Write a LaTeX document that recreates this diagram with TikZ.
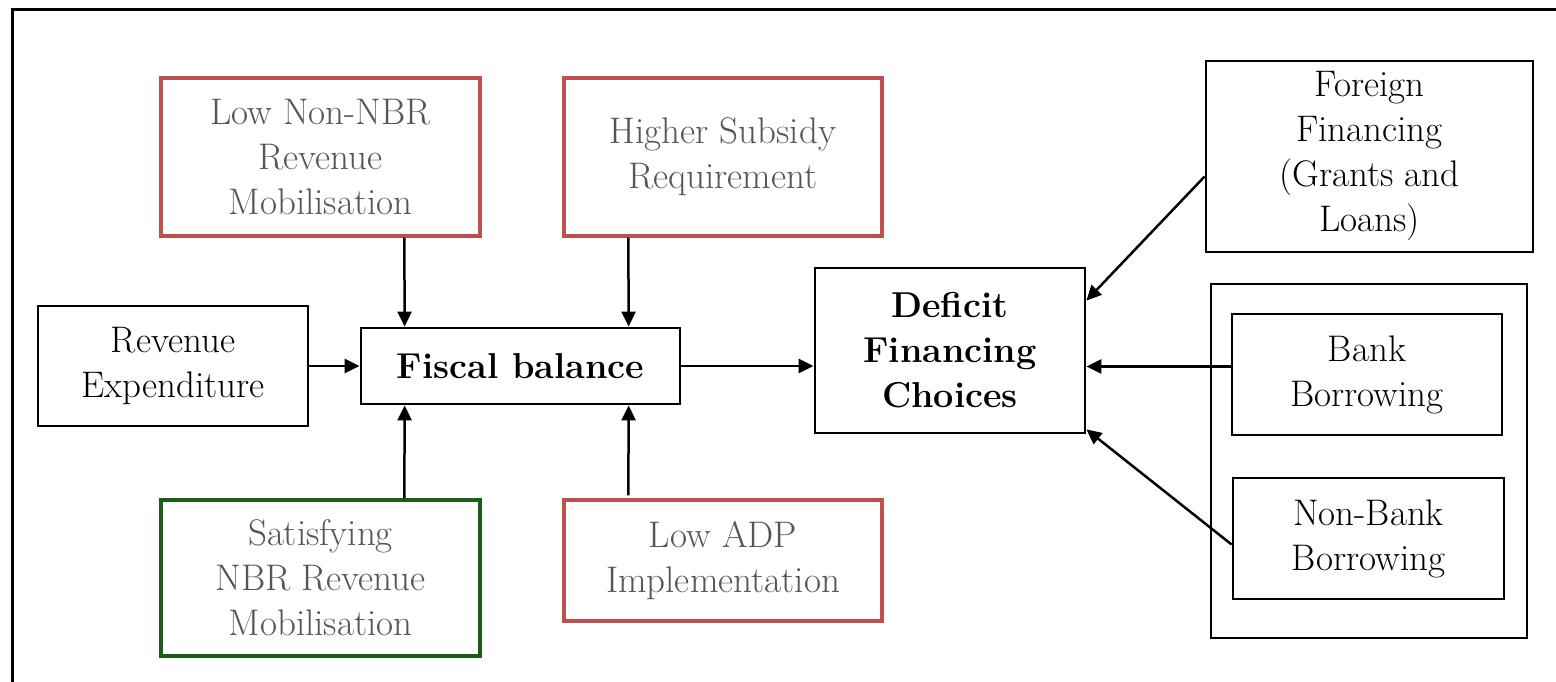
\documentclass[tikz,border=0pt]{standalone}
\usetikzlibrary{arrows.meta,calc}
\definecolor{boxred}{RGB}{192,80,77}
\definecolor{boxgreen}{RGB}{26,94,26}
\definecolor{txtgray}{RGB}{85,85,85}
\tikzset{
  box/.style={draw=black, line width=2.8pt, inner sep=0pt, align=center, font=\fontsize{37}{45}\selectfont, text=black},
  redbox/.style={box, draw=boxred, line width=3.2pt, text=txtgray},
  greenbox/.style={box, draw=boxgreen, line width=3.2pt, text=txtgray},
  bfbox/.style={box, font=\fontsize{36}{45}\selectfont\bfseries},
  arr/.style={line width=2.5pt, -{Triangle[length=15pt,width=14pt]}},
  frame/.style={line width=3pt}
}
\begin{document}
\begin{tikzpicture}[x=1pt,y=-1pt]
\useasboundingbox (0,0) rectangle (1556,681);
\clip (0,0) rectangle (1556,681);
\draw[frame] (12,700) -- (12,9) -- (1600,9);
\node[redbox, minimum width=319pt, minimum height=158pt] (lownon) at (320.5,157) {Low Non-NBR\\Revenue\\Mobilisation};
\node[redbox, minimum width=318pt, minimum height=158pt] (higher) at (723,157) {Higher Subsidy\\Requirement};
\node[box, minimum width=327pt, minimum height=191pt] (foreign) at (1369.5,156.5) {Foreign\\Financing\\(Grants and\\Loans)};
\node[box, minimum width=270pt, minimum height=120pt] (revexp) at (173,366) {Revenue\\Expenditure};
\node[bfbox, minimum width=319pt, minimum height=76pt] (fiscal) at (520.5,366) {Fiscal balance};
\node[bfbox, minimum width=270pt, minimum height=165pt] (deficit) at (950,350.5) {Deficit\\Financing\\Choices};
\node[box, minimum width=316pt, minimum height=354pt] (group) at (1369,461) {};
\node[box, minimum width=270pt, minimum height=121pt] (bank) at (1367,374.5) {Bank\\Borrowing};
\node[box, minimum width=271pt, minimum height=121pt] (nonbank) at (1368.5,538.5) {Non-Bank\\Borrowing};
\node[greenbox, minimum width=319pt, minimum height=156pt] (satisf) at (320.5,578) {Satisfying\\NBR Revenue\\Mobilisation};
\node[redbox, minimum width=318pt, minimum height=121pt] (lowadp) at (723,560.5) {Low ADP\\Implementation};
% arrows
\draw[arr] ($(lownon.south west)+(245,0)$) -- ($(fiscal.north west)+(45,0)$);
\draw[arr] ($(higher.south west)+(66,0)$) -- ($(fiscal.north west)+(269,0)$);
\draw[arr] ($(satisf.north west)+(245,0)$) -- ($(fiscal.south west)+(45,0)$);
\draw[arr] ($(lowadp.north west)+(66,-3)$) -- ($(fiscal.south west)+(269,0)$);
\draw[arr] (revexp.east) -- (fiscal.west);
\draw[arr] (fiscal.east) -- (fiscal.east -| deficit.west);
\draw[arr] ($(foreign.west)+(0,20)$) -- ($(deficit.north east)+(0,34)$);
\draw[arr] ($(bank.west)+(0,-8)$) -- ($(bank.west -| deficit.east)+(0,-8)$);
\draw[arr] ($(nonbank.west)+(0,6)$) -- ($(deficit.south east)+(0,-5)$);
\end{tikzpicture}
\end{document}
